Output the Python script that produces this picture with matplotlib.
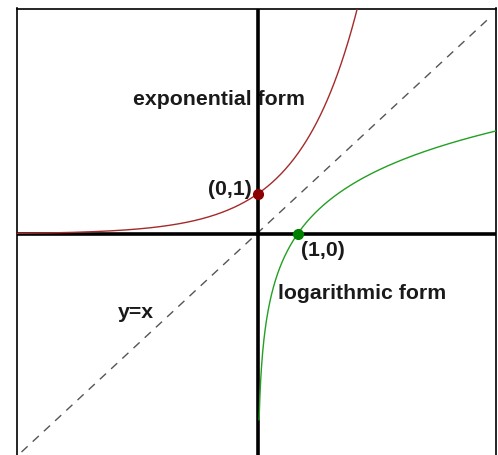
import numpy as np
import matplotlib
matplotlib.use("Agg")
import matplotlib.pyplot as plt

# data
base = 2.0
exp_x = np.linspace(-6.0, 2.7, 400)
log_x = np.linspace(0.04, 6.0, 600)
diag_x = [-5.9, 5.85]
diag_y = [-5.45, 5.45]
points_exp = (0, 1)
points_log = (1, 0)
labels = {
    "exponential form": (-3.12, 3.38),
    "(0,1)": (-1.24, 1.13),
    "(1,0)": (1.1, -0.4),
    "logarithmic form": (0.5, -1.46),
    "y=x": (-3.5, -1.93),
}

W, H = 498, 456
fig = plt.figure(figsize=(W / 100, H / 100), dpi=100)
left, right, top, bottom = 16.5, 495.5, 9.5, 470
ax = fig.add_axes([left / W, 1 - bottom / H, (right - left) / W, (bottom - top) / H])
px = 40.0
x0, y0 = 257.5, 235.0
ax.set_xlim((left - x0) / px, (right - x0) / px)
ax.set_ylim(-(bottom - y0) / px, (y0 - top) / px)
for s in ax.spines.values():
    s.set_linewidth(1.2)
    s.set_color("black")
ax.set_xticks([])
ax.set_yticks([])

ax.axhline(0, color="black", lw=2.6, zorder=3)
ax.axvline(0, color="black", lw=2.6, zorder=3)

ax.plot(diag_x, diag_y, color="#555555", lw=1.0, dashes=(6, 5), zorder=1)
ax.plot(exp_x, base ** exp_x, color="#a52a2a", lw=1.0, zorder=4)
ax.plot(log_x, np.log(log_x) / np.log(base), color="#22a022", lw=1.0, zorder=4)
ax.plot(*points_exp, "o", color="#8b0000", ms=7, zorder=5)
ax.plot(*points_log, "o", color="#008000", ms=7, zorder=5)

for t, (x, y) in labels.items():
    ax.text(x, y, t, fontsize=15.3, fontweight="bold", family="Liberation Sans",
            color="#1a1a1a", va="center", ha="left", zorder=2)

fig.savefig("out.png", dpi=100)
